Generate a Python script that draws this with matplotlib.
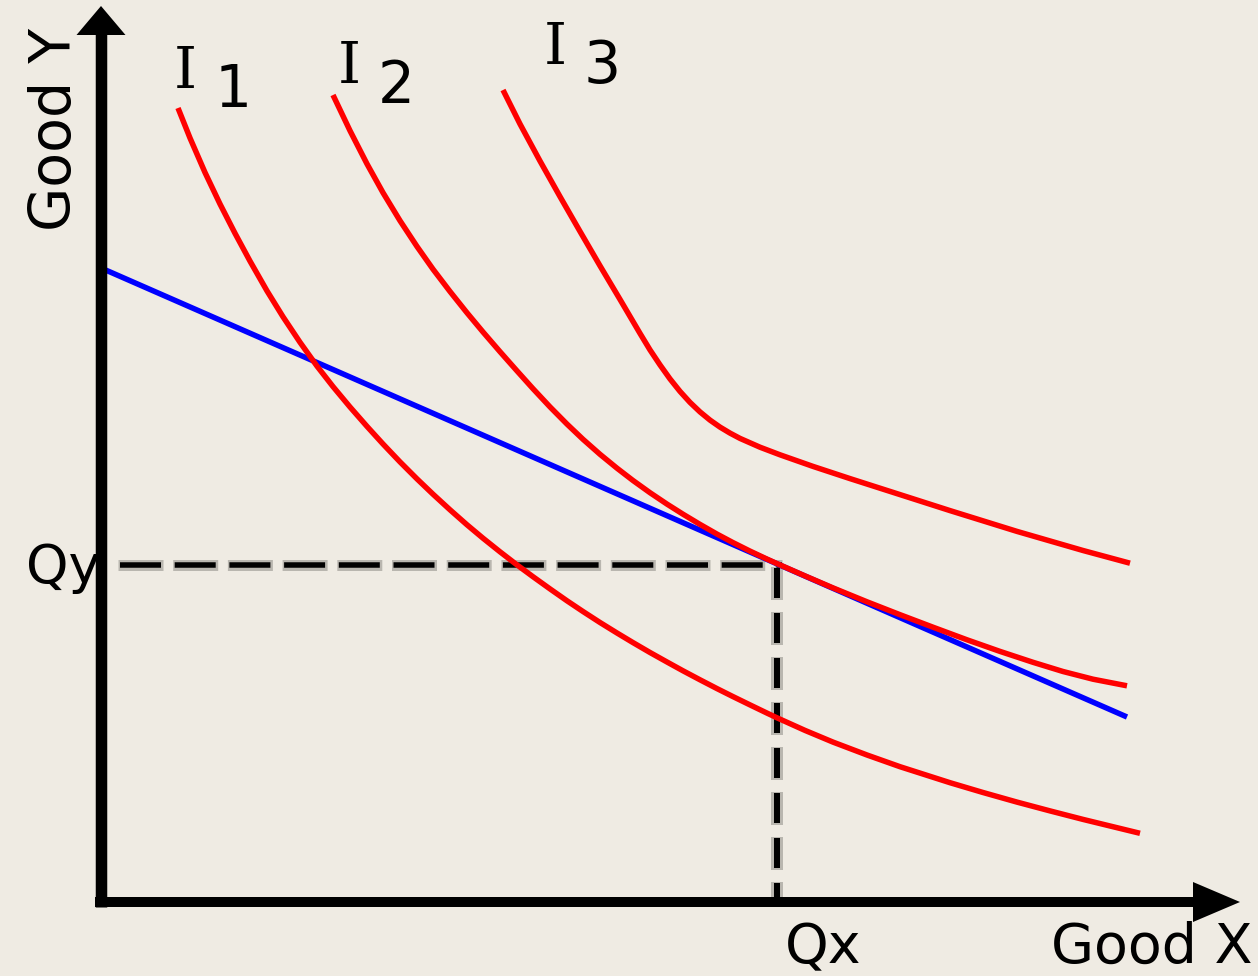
import matplotlib
matplotlib.use('Agg')
import matplotlib.pyplot as plt
from matplotlib.patches import Polygon

plt.rcParams['lines.scale_dashes'] = False

# ---------------- data (chart units) ----------------
i1_x = [7.7, 8.9, 10.4, 11.9, 13.4, 14.9, 16.6, 18.2, 19.9, 21.6, 23.2, 24.9, 26.6, 28.2,
        29.9, 31.6, 33.2, 34.9, 36.6, 38.2, 39.9, 41.6, 43.2, 44.9, 46.6, 48.2, 49.9,
        51.6, 53.2, 54.9, 56.6, 58.2, 59.9, 61.6, 63.2, 64.9, 66.6, 67.6, 70.4, 73.2,
        76.6, 79.9, 84.9, 88.2, 91.6, 94.9, 98.2, 103.9]
i1_y = [79.4, 76.4, 72.95, 69.8, 66.87, 64.09, 61.11, 58.52, 55.97, 53.59, 51.54, 49.5,
        47.56, 45.8, 44.01, 42.31, 40.78, 39.22, 37.72, 36.38, 35.02, 33.71, 32.53,
        31.31, 30.12, 29.05, 27.95, 26.9, 25.94, 24.95, 24.0, 23.12, 22.22, 21.34,
        20.54, 19.71, 18.89, 18.42, 17.16, 15.99, 14.70, 13.53, 11.93, 10.95, 9.99,
        9.11, 8.26, 6.87]

i2_x = [23.2, 24.9, 26.6, 28.2, 29.9, 31.6, 33.2, 34.9, 36.6, 38.2, 39.9, 41.6, 43.2, 44.9,
        46.6, 48.2, 49.9, 51.6, 53.2, 54.9, 56.6, 58.2, 59.9, 61.6, 63.2, 64.9, 66.6,
        67.6, 70.4, 73.2, 76.6, 79.9, 83.2, 86.6, 89.9, 93.2, 96.2, 99.2, 102.6]
i2_y = [80.7, 77.13, 73.81, 70.93, 68.13, 65.55, 63.28, 61.05, 58.92, 57.0, 55.03, 53.11,
        51.33, 49.51, 47.79, 46.27, 44.77, 43.38, 42.15, 40.93, 39.79, 38.78, 37.76,
        36.79, 35.94, 35.09, 34.29, 33.84, 32.61, 31.41, 30.02, 28.73, 27.48, 26.22,
        25.06, 23.97, 23.05, 22.28, 21.62]

i3_x = [40.2, 41.9, 43.9, 45.9, 47.9, 49.9, 51.9, 53.9, 54.9, 55.9, 56.9, 57.9, 58.9, 59.9,
        60.9, 61.9, 62.9, 63.9, 65.9, 67.9, 71.2, 74.9, 79.9, 84.9, 91.6, 98.2, 102.9]
i3_y = [81.2, 77.8, 74.1, 70.54, 67.06, 63.62, 60.26, 56.86, 55.21, 53.71, 52.31, 51.06,
        49.96, 49.01, 48.19, 47.49, 46.89, 46.36, 45.48, 44.72, 43.56, 42.34, 40.74,
        39.14, 37.06, 35.15, 33.88]

budget_x = [0.0, 102.6]
budget_y = [63.4, 18.5]

qx = 67.6
qy = 33.7

curve_names = ['1', '2', '3']

# ---------------- figure ----------------
BG = '#EFEBE3'
fig = plt.figure(figsize=(12.58, 9.76), dpi=100, facecolor=BG)
ax = fig.add_axes([0, 0, 1, 1])
ax.set_facecolor(BG)
ax.set_xlim(-10.1, 115.7)
ax.set_ylim(-7.4, 90.2)
ax.axis('off')

PX = 72 / 100.0  # points per pixel

# dashed guide lines (soft gray fringe + black core)
ax.plot([1.7, qx + 0.5], [qy, qy], color='#B9B6AF', lw=11 * PX,
        linestyle=(0, (45 * PX, 9.7 * PX)), dash_capstyle='butt', zorder=2)
ax.plot([1.9, qx + 0.5], [qy, qy], color='black', lw=5.5 * PX,
        linestyle=(0, (41 * PX, 13.7 * PX)), dash_capstyle='butt', zorder=2.1)
ax.plot([qx, qx], [qy - 0.2, 0], color='#B9B6AF', lw=12 * PX,
        linestyle=(0, (33 * PX, 12 * PX)), dash_capstyle='butt', zorder=2)
ax.plot([qx, qx], [qy - 0.3, 0], color='black', lw=6 * PX,
        linestyle=(0, (30 * PX, 15 * PX)), dash_capstyle='butt', zorder=2.1)

# budget line and indifference curves
ax.plot(budget_x, budget_y, color='#0000FF', lw=5.5 * PX, solid_capstyle='butt', zorder=3)
for xs, ys in [(i1_x, i1_y), (i2_x, i2_y), (i3_x, i3_y)]:
    ax.plot(xs, ys, color='#FF0000', lw=5.5 * PX, solid_capstyle='butt',
            solid_joinstyle='round', zorder=4)

# axes with arrows
ax.plot([0, 0], [-0.5, 87.0], color='black', lw=11.5 * PX, solid_capstyle='butt', zorder=5)
ax.plot([-0.6, 109.5], [0, 0], color='black', lw=10 * PX, solid_capstyle='butt', zorder=5)
ax.add_patch(Polygon([[-2.45, 86.7], [2.45, 86.7], [0, 89.6]], closed=True,
                     color='black', zorder=6, lw=0))
ax.add_patch(Polygon([[109.2, 2.0], [109.2, -2.0], [113.9, 0]], closed=True,
                     color='black', zorder=6, lw=0))

# labels
lab_I_x = [7.3, 23.7, 44.3]
lab_I_y = [81.4, 81.9, 83.8]
lab_n_x = [11.4, 27.7, 48.3]
lab_n_y = [79.5, 79.9, 81.9]
for k in range(3):
    ax.text(lab_I_x[k], lab_I_y[k], 'I', family='DejaVu Serif', fontsize=42,
            ha='left', va='baseline', color='black')
    ax.text(lab_n_x[k], lab_n_y[k], curve_names[k], family='DejaVu Sans', fontsize=42,
            ha='left', va='baseline', color='black')

ax.text(95.0, -6.1, 'Good X', family='DejaVu Sans', fontsize=40, ha='left', va='baseline')
ax.text(68.4, -6.1, 'Qx', family='DejaVu Sans', fontsize=40, ha='left', va='baseline')
ax.text(-7.5, 31.9, 'Qy', family='DejaVu Sans', fontsize=39, ha='left', va='baseline')
ax.text(-3.0, 77.3, 'Good Y', family='DejaVu Sans', fontsize=41, rotation=90,
        rotation_mode='anchor', ha='center', va='baseline')

fig.savefig('out.png', dpi=100, facecolor=BG)
